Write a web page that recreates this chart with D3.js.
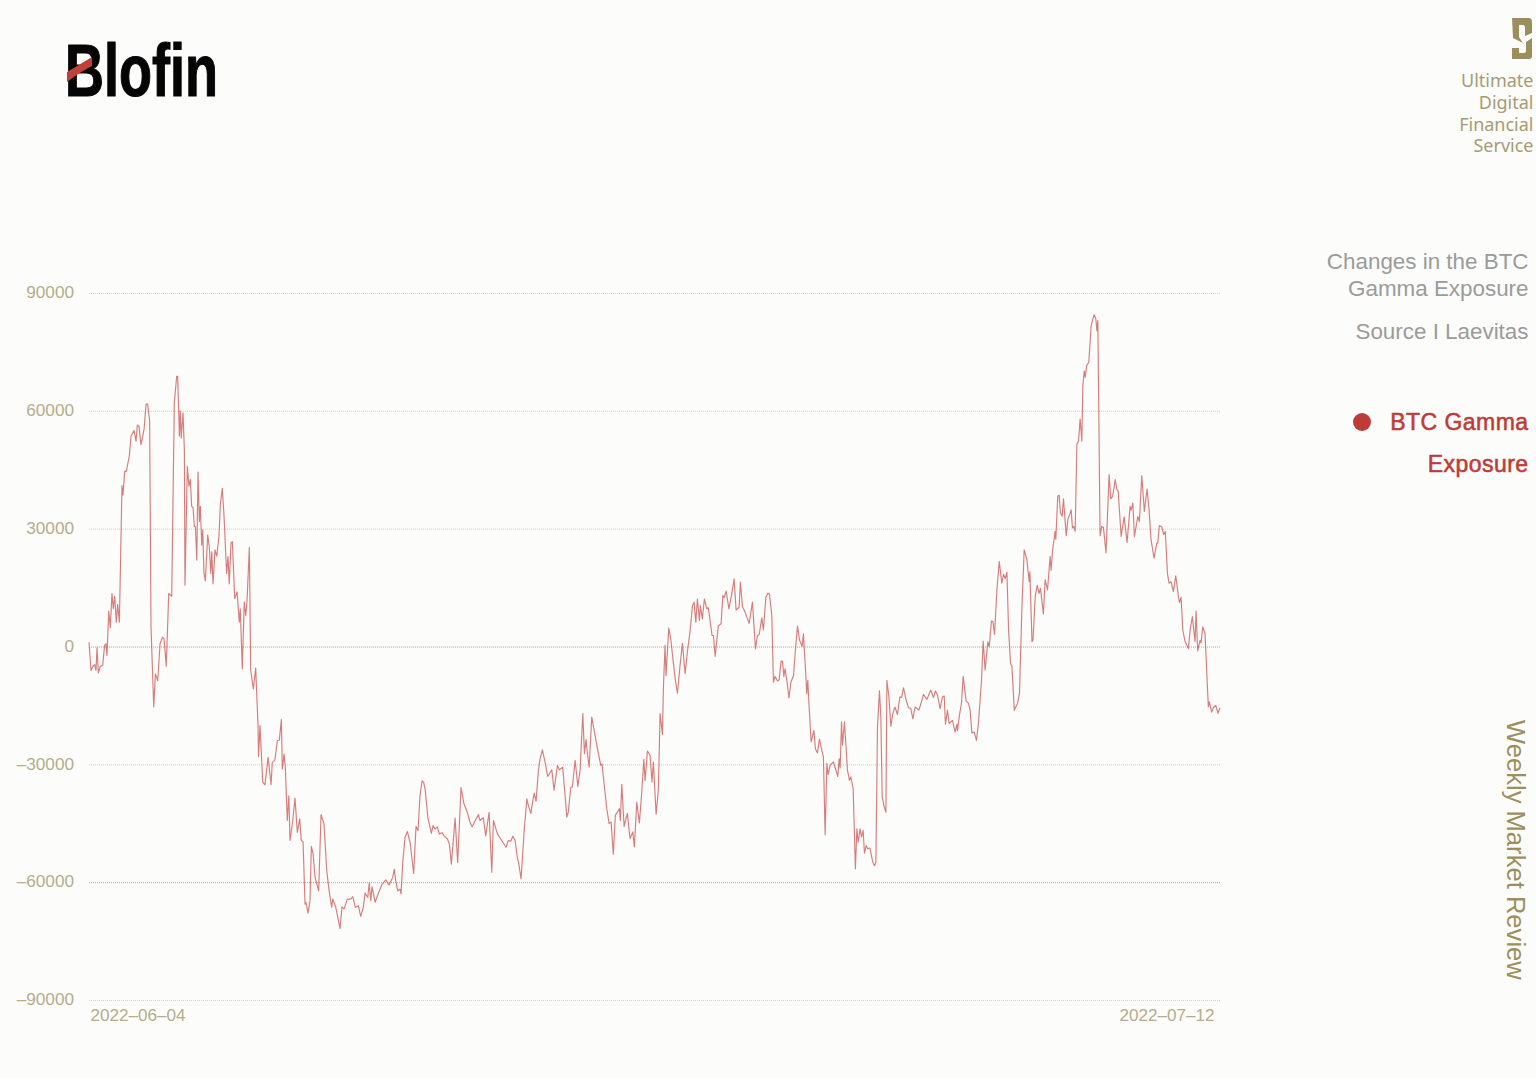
<!DOCTYPE html>
<html><head><meta charset="utf-8">
<script src="https://cdn.jsdelivr.net/npm/d3@7"></script>
<style>html,body{margin:0;padding:0;background:#fcfcfa}svg{display:block}</style>
</head><body><div id="chart"></div>
<script>
const yTicks=[90000,60000,30000,0,-30000,-60000,-90000];
const dateTicks=["2022-06-04","2022-07-12"];
const titleLines=["Changes in the BTC","Gamma Exposure"];
const sourceLine="Source I Laevitas";
const legendLines=["BTC Gamma","Exposure"];
const taglineLines=["Ultimate","Digital","Financial","Service"];
const sideLabel="Weekly Market Review";
// [hours since 2022-06-04 00:00, gamma exposure]
const gammaSamples=[[0,1100],[1.6,-6100],[3.5,-4900],[4.6,-4600],[5.6,-6100],[6.5,-300],[7.5,-6700],[9.1,-5100],[11,-4800],[12.6,300],[13.7,700],[14.5,-2300],[15.9,9000],[17.2,4800],[18.5,13500],[19.6,9600],[20.7,12800],[22,6200],[23.1,10700],[24.5,6200],[26.6,41000],[27.4,38600],[28.8,44600],[30.1,44600],[32.5,48500],[33.9,53600],[36.3,55000],[37.9,52300],[39,56400],[40.3,56100],[41.9,51400],[44.4,55300],[46,61700],[47.3,61700],[48.9,57400],[50,5000],[52.2,-15400],[53.5,-7000],[55.4,-8700],[57.3,700],[59.2,2400],[60.5,2000],[62.3,-5000],[64.3,13500],[66.7,12800],[68.8,62100],[70.7,68800],[71.5,68800],[72.9,53600],[73.6,60000],[74.4,53100],[75.8,59500],[76.9,50000],[77.4,15600],[79.3,45900],[80.6,40800],[81.7,42500],[82.8,35700],[83.9,35300],[85,30500],[85.8,30500],[86.9,22000],[87.9,44400],[89,31800],[89.8,35700],[90.9,25800],[91.7,29700],[92.7,18600],[93.8,16700],[95.7,28400],[97,25400],[98.2,18600],[99,24100],[100,16000],[101.6,24600],[103,23000],[104.8,28000],[105.9,36100],[107.5,40300],[108.9,33100],[111,18600],[112.1,22900],[113.1,16000],[114.5,26300],[115.6,26700],[117.5,12200],[119.4,13900],[121.2,6200],[122,9600],[123.6,-5700],[125.2,11300],[126.4,7900],[127.4,11600],[129.3,25200],[130.4,-6100],[132.5,-10800],[134.4,-5500],[136.3,-20150],[136.7,-28000],[137.9,-20150],[140.1,-34600],[141.9,-35200],[144.4,-28200],[146.8,-35200],[147.8,-29500],[149.8,-29000],[151.9,-24000],[153.5,-23800],[155.1,-18600],[155.9,-31200],[157.3,-27400],[158.3,-30800],[159.9,-44300],[161.1,-38000],[162.1,-49400],[164.3,-44300],[166.1,-38600],[168,-47300],[169.9,-43900],[171.2,-49400],[172.6,-49700],[174.2,-65600],[175,-65200],[176.6,-67900],[178.2,-64700],[179.3,-50900],[180.7,-52800],[182.3,-58800],[185.2,-62200],[187.1,-42800],[189.5,-45200],[191.7,-57100],[193.8,-62600],[195.7,-66400],[196.5,-64300],[199,-66400],[202.4,-71800],[204,-66300],[205.7,-66800],[208.3,-64300],[211,-64300],[212.7,-63700],[214.8,-66400],[217.2,-66000],[219.1,-68700],[221.2,-66400],[222.6,-62800],[224.8,-63900],[226,-60200],[227.2,-64700],[228.2,-61200],[230.7,-65100],[234.1,-62200],[236,-60700],[239.3,-59400],[241.9,-60700],[244.9,-58800],[246.2,-56700],[247.3,-59600],[248.9,-62200],[250.8,-61800],[251.6,-63000],[253,-55000],[254.8,-48600],[256.7,-47100],[258.9,-49900],[261.8,-57800],[263.7,-45800],[265.3,-46900],[266.9,-38000],[268.6,-34200],[269.9,-34600],[271.2,-36700],[273.2,-43500],[276.1,-47600],[277.4,-45600],[279,-46500],[280.9,-45900],[282.5,-47700],[284.7,-47400],[286.3,-48200],[289,-49000],[290.6,-50300],[292.2,-55400],[295.2,-43700],[297.3,-55000],[300,-35900],[302.4,-40100],[304.6,-41800],[307.3,-44800],[308.9,-45900],[314,-42800],[315.3,-44300],[318,-43600],[319.9,-48200],[322.6,-42200],[324.8,-57500],[326.1,-44300],[329.3,-47700],[332.8,-49400],[336.3,-51100],[338.2,-49400],[340.1,-49600],[341.7,-48300],[343.6,-49400],[345.4,-53700],[346.6,-55400],[348.4,-59200],[351.1,-46000],[353.1,-38800],[354.3,-40500],[356.3,-42500],[358.9,-37300],[360.5,-39400],[362.4,-31600],[363.7,-28600],[365.6,-26300],[367.8,-29500],[369.9,-33100],[373.2,-31400],[375,-36600],[377.7,-30300],[379.3,-31400],[382,-30700],[385.3,-43400],[386.5,-42100],[388.5,-35900],[389.8,-35700],[392,-29000],[394.2,-35600],[396,-31500],[398.2,-17100],[399.5,-27300],[400.8,-23700],[401.9,-27300],[403.3,-30700],[405.4,-18000],[407.6,-21800],[410,-26000],[412.7,-30300],[413.7,-29900],[417.5,-41300],[419.4,-45100],[421,-44700],[422.8,-52900],[424.4,-43000],[427.7,-41300],[428.5,-44300],[429.6,-35100],[431.5,-45800],[434.1,-42500],[436.3,-48900],[438.5,-47200],[439.8,-51000],[441.7,-39600],[443.8,-44900],[445.4,-38500],[447.4,-28700],[448.4,-34100],[450.3,-26600],[452.4,-27700],[454,-34500],[455.1,-29400],[457.3,-42700],[459.1,-36600],[460.5,-17100],[462.4,-22400],[463.2,-10300],[464.5,300],[465.3,-7400],[467.5,4700],[469.1,1900],[470.7,-2700],[472.6,-8000],[474.5,-11900],[476.6,-4800],[478.5,800],[480.7,-6900],[482.5,-1400],[484.7,3900],[486.6,10400],[487.9,11300],[489.3,6200],[490.6,12100],[492.2,6600],[493,10400],[494.6,7000],[496.2,12100],[498.2,9600],[499.4,9900],[502.4,2800],[503.5,2800],[504.9,-2500],[507.5,5300],[509.7,5800],[511.1,13000],[512.1,12400],[513.8,14100],[516,9600],[518.1,13000],[520.2,17200],[521.8,9300],[524.2,10000],[525.3,16400],[526.9,10200],[529.1,8700],[532.3,5900],[535,11300],[537.4,-600],[539,2800],[540.4,3000],[542.5,7300],[543.8,4200],[545.8,12500],[547.4,13600],[548.7,13300],[550.6,7900],[551.9,-9100],[553.1,-7600],[555.2,-8800],[556.5,-8500],[558.1,-3700],[559.2,-3800],[560.3,-7600],[561.3,-5700],[563,-9300],[564.4,-13100],[566,-9100],[568.1,-7400],[569.5,-1400],[571.3,5200],[572.9,1700],[575.1,0],[576.1,3200],[577.5,-4400],[578.8,-12000],[579.6,-8600],[580.7,-15400],[582.3,-24300],[584.5,-21400],[585.8,-26100],[587.4,-27100],[589,-23600],[590.9,-26400],[592.2,-28100],[593.6,-47900],[595,-29800],[596,-32600],[597.6,-30200],[600.3,-29400],[603.8,-33100],[604.9,-28600],[605.7,-30900],[606.8,-19200],[607.6,-25100],[609.2,-19200],[611.6,-31500],[613.2,-34100],[614.3,-33200],[616.2,-36200],[618,-56600],[619.2,-46400],[620.2,-49800],[621.8,-46400],[622.9,-48500],[624.2,-46800],[625.3,-52600],[626.7,-50700],[628,-51500],[629.7,-51300],[632,-54900],[633.3,-55800],[634.5,-55000],[635.8,-20500],[637.4,-11300],[638.5,-17900],[639.6,-38300],[641,-40500],[642.6,-42200],[643.4,-8600],[645,-12800],[646.6,-20300],[648.2,-17100],[649.9,-15400],[651.9,-17300],[653.9,-12800],[655.2,-13000],[656.8,-10500],[658.9,-13700],[660.8,-15600],[662.7,-15800],[664.3,-18400],[666.2,-15400],[669.2,-16200],[671.6,-13700],[672.9,-12200],[675.6,-13500],[678.8,-11100],[680.9,-13000],[682.6,-11300],[684.2,-12400],[686.3,-15800],[688.2,-12800],[689.6,-12600],[690.6,-19800],[692.2,-16200],[693.6,-19600],[696.3,-18800],[698.4,-21800],[699.8,-19800],[700.3,-21400],[701.9,-17500],[703.5,-14500],[704.9,-7600],[707.3,-13900],[709.2,-14500],[710.5,-16200],[711.9,-22000],[713.8,-21800],[715.6,-23900],[717.2,-19600],[719.7,-8600],[721,1400],[722.6,-6000],[724.8,1200],[725.9,-100],[727.7,6500],[728.9,6300],[730.2,3100],[732.1,14400],[734,21600],[736.1,16100],[737.4,18400],[738.8,17300],[740.2,18900],[741.5,4200],[743.1,-4300],[744.2,-5000],[746.1,-16200],[748.7,-14500],[750.3,-12000],[752.3,10100],[754.1,24600],[756.3,22100],[758.1,16500],[758.7,19000],[760.4,1200],[761.2,1600],[763,12700],[764.6,15600],[766,13500],[767.2,14800],[769.6,8300],[771,17000],[772.9,14400],[775,22900],[775.8,19400],[776.9,24200],[779,29300],[779.6,27300],[781.2,38300],[782.3,38500],[783.3,34000],[784.7,33200],[785.8,37600],[788,28200],[789.3,32300],[792,34800],[793,30200],[794.1,30600],[795.2,29300],[796.6,51500],[797.9,52300],[799.2,57900],[800.6,52300],[801.4,66400],[802.5,70200],[803.3,68500],[804.6,71700],[806.2,72300],[808.1,81700],[810.5,84500],[811.9,83400],[812.7,80400],[813.5,83000],[815.3,28200],[816.7,30600],[818,30300],[820.1,23900],[822.6,43800],[823.9,37600],[825.5,38300],[827.5,42500],[828.8,40000],[829.9,39500],[832.3,28000],[834.7,33000],[837.1,26500],[839.5,35700],[840.3,34700],[841.7,36500],[843,28000],[845.7,33100],[847,31800],[848.9,43500],[851,34400],[853.2,40100],[854.8,34800],[856.4,27200],[858.8,22500],[861,26300],[861.8,26300],[863.1,30800],[865,30500],[866.6,28500],[867.9,29300],[869.6,18700],[870.9,16100],[872.5,16500],[874.4,14000],[876.3,18000],[878.5,12700],[879.3,11200],[880.6,12500],[882,4200],[883.9,1200],[886.5,-500],[887.9,4200],[889.7,7600],[891.9,1200],[892.7,9000],[894,-1100],[895.9,1600],[896.7,900],[898.1,5000],[899.9,3300],[902.6,-15400],[903.4,-14100],[905.3,-16700],[906.6,-15600],[908.6,-15000],[910.4,-17000],[912,-15600]];

const W=1536,H=1078;
const plotLeft=89,plotRight=1220,plotTop=293,plotBottom=1000;
const parse=d3.utcParse("%Y-%m-%d");
const startDate=parse(dateTicks[0]), endDate=parse(dateTicks[1]);
const x=d3.scaleUtc().domain([startDate,endDate]).range([plotLeft,plotRight]);
const y=d3.scaleLinear().domain([-90000,90000]).range([plotBottom,plotTop]);
const svg=d3.select("#chart").append("svg").attr("width",W).attr("height",H);
svg.append("rect").attr("width",W).attr("height",H).attr("fill","#fcfcfa");
const sans="'Liberation Sans',Arial,sans-serif";

// Grid + y labels
const yAxis=svg.append("g").attr("transform",`translate(${plotLeft},0)`)
  .call(d3.axisLeft(y).tickValues(yTicks).tickSize(-(plotRight-plotLeft)).tickPadding(15).tickFormat(d=>String(d).replace("-","\u2013")));
yAxis.select(".domain").remove();
yAxis.selectAll("line")
  .attr("stroke",d=>(d===0||d===-60000)?"#aeab7c":"#d6d5bd")
  .attr("stroke-width",1).attr("stroke-dasharray","1 1");
yAxis.selectAll("text").attr("font-family",sans).attr("font-size",17.2).attr("fill","#b5ad8b").attr("dy","0.28em");

// X labels
const xAxis=svg.append("g").attr("transform",`translate(0,${plotBottom})`)
  .call(d3.axisBottom(x).tickValues([startDate,endDate]).tickSize(0).tickPadding(9).tickFormat(d=>d3.utcFormat("%Y\u2013%m\u2013%d")(d)));
xAxis.select(".domain").remove();
xAxis.selectAll("text").attr("font-family",sans).attr("font-size",17.1).attr("fill","#b5ad8b")
  .attr("text-anchor",(d,i)=>i===0?"start":"end").attr("dx",(d,i)=>i===0?1:-6);

// Line
const line=d3.line().x(d=>x(new Date(startDate.getTime()+d[0]*36e5))).y(d=>y(d[1])).curve(d3.curveLinear);
svg.append("path").datum(gammaSamples).attr("d",line).attr("fill","none")
  .attr("stroke","#c4413f").attr("stroke-opacity",0.68).attr("stroke-width",1.15).attr("stroke-linejoin","round");

// Logo
svg.append("text").attr("x",65).attr("y",95.5).attr("font-family","'Liberation Sans Narrow','Liberation Sans',sans-serif")
  .attr("font-weight",700).attr("font-size",74).attr("fill","#050505").attr("stroke","#050505").attr("stroke-width",1.2)
  .attr("textLength",153).attr("lengthAdjust","spacingAndGlyphs").text("Blofin");
svg.append("path").attr("d","M67,72 L92,57 L92,66 Q80,72 67,82 Z").attr("fill","#c0403a");

// Brand mark
svg.append("path").attr("fill","#9c8f5e")
  .attr("d","M1512,18 H1529 Q1532,18 1532,22 V33 L1525,36 V27 Q1525,25 1523,25 H1519 V37 L1523,43 L1513,38 Z M1512,48 L1519,48 V53 H1524 Q1526,53 1526,51 V42 L1532,38 V56 Q1532,59 1529,59 H1512 Z");
svg.append("g").selectAll("text").data(taglineLines).join("text")
  .attr("x",1533.5).attr("y",(d,i)=>87+i*21.8).attr("text-anchor","end")
  .attr("font-family","'Noto Sans',sans-serif").attr("font-size",18).attr("fill","#a69b74").text(d=>d);

// Title
svg.append("g").selectAll("text").data(titleLines).join("text")
  .attr("x",1528.5).attr("y",(d,i)=>268.5+i*27).attr("text-anchor","end")
  .attr("font-family",sans).attr("font-size",22.4).attr("fill","#9b9b9b").text(d=>d);
svg.append("text").attr("x",1528.5).attr("y",339).attr("text-anchor","end")
  .attr("font-family",sans).attr("font-size",22.4).attr("fill","#9b9b9b").text(sourceLine);

// Legend
svg.append("circle").attr("cx",1362).attr("cy",422).attr("r",9).attr("fill","#bf3b37");
svg.append("g").selectAll("text").data(legendLines).join("text")
  .attr("x",1528.5).attr("y",(d,i)=>430+i*42).attr("text-anchor","end")
  .attr("font-family",sans).attr("font-size",23).attr("font-weight",400).attr("fill","#bf3b37")
  .attr("stroke","#bf3b37").attr("stroke-width",0.55).attr("letter-spacing",0.45).text(d=>d);

// Side label
svg.append("text").attr("transform","translate(1507,720) rotate(90)")
  .attr("font-family",sans).attr("font-size",25.6).attr("fill","#9c8f5e").text(sideLabel);
</script></body></html>
